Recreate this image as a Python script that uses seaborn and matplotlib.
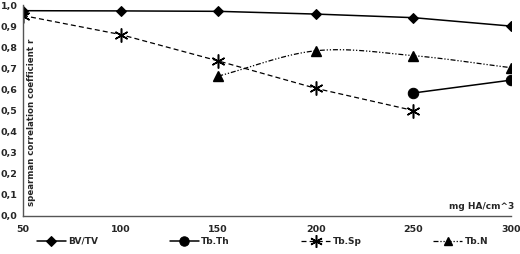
import numpy as np
import pandas as pd
import seaborn as sns
import matplotlib.pyplot as plt
from matplotlib.ticker import FuncFormatter

# dados
dose = [50, 100, 150, 200, 250, 300]
bv_tv = [0.973, 0.972, 0.970, 0.957, 0.940, 0.900]
tb_sp = [0.950, 0.860, 0.735, 0.605, 0.500]
tb_sp_x = [50, 100, 150, 200, 250]
tb_n = [0.663, 0.783, 0.760, 0.703]
tb_n_x = [150, 200, 250, 300]
tb_th = [0.583, 0.644]
tb_th_x = [250, 300]


def suavizar(x, y, n=30):
    # curva tipo catmull-rom so para o desenho (linha suavizada do excel)
    x = np.asarray(x, float)
    y = np.asarray(y, float)
    px = np.concatenate([[2 * x[0] - x[1]], x, [2 * x[-1] - x[-2]]])
    py = np.concatenate([[2 * y[0] - y[1]], y, [2 * y[-1] - y[-2]]])
    xs, ys = [], []
    t = np.linspace(0, 1, n)
    for i in range(1, len(px) - 2):
        for p, out in ((px, xs), (py, ys)):
            p0, p1, p2, p3 = p[i - 1], p[i], p[i + 1], p[i + 2]
            out.extend(0.5 * ((2 * p1) + (-p0 + p2) * t
                              + (2 * p0 - 5 * p1 + 4 * p2 - p3) * t ** 2
                              + (-p0 + 3 * p1 - 3 * p2 + p3) * t ** 3))
    return xs, ys


sns.set_theme(style="white")
plt.rcParams["font.family"] = ["DejaVu Sans"]

fig = plt.figure(figsize=(5.2, 2.54), dpi=100)
ax = fig.add_axes([23 / 520, 1 - 216 / 254, 488 / 520, 211 / 254])

df_bv = pd.DataFrame({"x": dose, "y": bv_tv})
sns.lineplot(data=df_bv, x="x", y="y", ax=ax, color="black", lw=1.1,
             marker="D", markersize=5.5, mec="black", label="BV/TV")

df_th = pd.DataFrame({"x": tb_th_x, "y": tb_th})
sns.lineplot(data=df_th, x="x", y="y", ax=ax, color="black", lw=1.1,
             marker="o", markersize=7.5, mec="black", label="Tb.Th")

df_sp = pd.DataFrame({"x": tb_sp_x, "y": tb_sp})
sns.lineplot(data=df_sp, x="x", y="y", ax=ax, color="black", lw=0.9,
             linestyle=(0, (4, 2.5)), marker=(6, 2, 0), markersize=10,
             mec="black", mew=1.1, label="Tb.Sp")

estilo_n = (0, (4, 1.5, 1, 1.5, 1, 1.5))
sx, sy = suavizar(tb_n_x, tb_n)
ax.plot(sx, sy, color="black", lw=0.9, linestyle=estilo_n)
ax.plot(tb_n_x, tb_n, color="black", lw=0, marker="^", markersize=7)
ax.plot([], [], color="black", lw=0.9, linestyle=estilo_n,
        marker="^", markersize=7, label="Tb.N")

ax.set_xlim(50, 300)
ax.set_ylim(0, 1.0)
ax.set_xticks(dose)
ax.set_yticks(np.arange(0, 1.01, 0.1))
ax.yaxis.set_major_formatter(FuncFormatter(lambda v, p: f"{v:.1f}".replace(".", ",")))
ax.set_xlabel("")
ax.set_ylabel("")
for s in ["top", "right"]:
    ax.spines[s].set_visible(False)
for s in ["left", "bottom"]:
    ax.spines[s].set_color("#555555")
    ax.spines[s].set_linewidth(1.0)
ax.tick_params(axis="both", labelsize=6.8, length=3, width=0.8, color="#555555", pad=1)
ax.tick_params(axis="x", direction="inout", length=5, pad=4)
for lab in ax.get_xticklabels() + ax.get_yticklabels():
    lab.set_fontweight("bold")

ax.text(54.5, 0.445, "spearman correlation coefficient r", rotation=90, fontsize=6.2,
        fontweight="bold", ha="center", va="center")
ax.text(301.5, 0.025, "mg HA/cm^3", fontsize=6.5, fontweight="bold", ha="right", va="bottom")

h, l = ax.get_legend_handles_labels()
ax.get_legend().remove()
fig.legend(h, l, loc="lower center", bbox_to_anchor=(0.055, 0.0, 0.9, 0.1), mode="expand",
           ncol=4, frameon=False, fontsize=6.5, handlelength=3.2, handletextpad=0.3,
           markerscale=0.9)
for t in fig.legends[0].get_texts():
    t.set_fontweight("bold")

fig.savefig("out.png", dpi=100)
